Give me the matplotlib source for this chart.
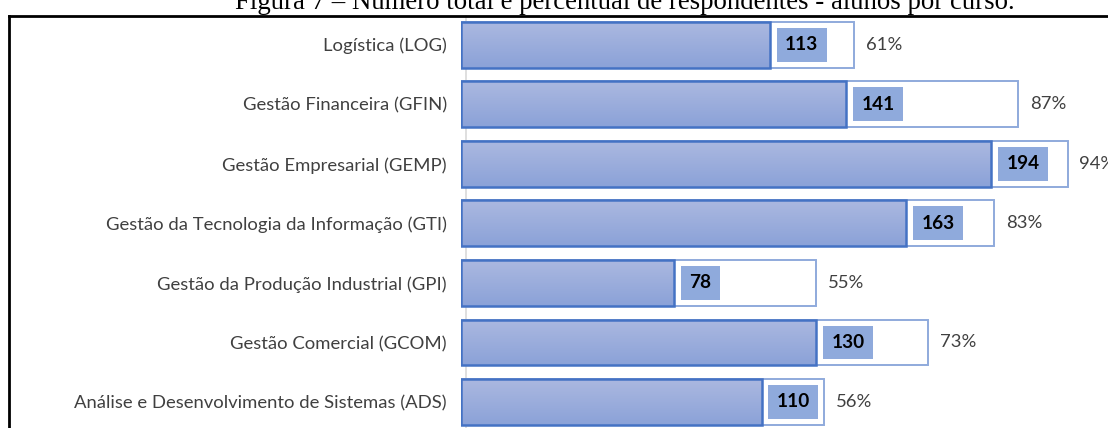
import numpy as np
import matplotlib
matplotlib.use("Agg")
import matplotlib.pyplot as plt
from matplotlib.lines import Line2D
from matplotlib.colors import LinearSegmentedColormap

# Course data
cursos = [
    "Logística (LOG)",
    "Gestão Financeira (GFIN)",
    "Gestão Empresarial (GEMP)",
    "Gestão da Tecnologia da Informação (GTI)",
    "Gestão da Produção Industrial (GPI)",
    "Gestão Comercial (GCOM)",
    "Análise e Desenvolvimento de Sistemas (ADS)",
]
respondentes = [113, 141, 194, 163, 78, 130, 110]
total_alunos = [144, 204, 222, 195, 130, 171, 133]
percentuais = ["61%", "87%", "94%", "83%", "55%", "73%", "56%"]

titulo = "Figura 7 – Número total e percentual de respondentes - alunos por curso."

W, H = 1108, 428
fig = plt.figure(figsize=(W / 100, H / 100), dpi=100)
fig.patch.set_facecolor("white")

plot_left = 461
ax = fig.add_axes([plot_left / W, 0, (W - plot_left) / W, 1])
px_per_unit = 2.732
row0, step = 44.7, 59.55

y = np.arange(len(cursos))
bar_h = 0.77

# Outline bars for totals
ax.barh(y, total_alunos, height=bar_h, fill=False, edgecolor="#8faadc",
        linewidth=1.4, zorder=2)

# Filled bars for respondents, with a soft vertical gradient
bars = ax.barh(y, respondentes, height=bar_h, color="none",
               edgecolor="#4472c4", linewidth=1.8, zorder=4)
cmap = LinearSegmentedColormap.from_list("grad", ["#abb8e0", "#8ba2d8"])
grad = np.linspace(0, 1, 64).reshape(-1, 1)
for b in bars:
    x0, y0 = b.get_x(), b.get_y()
    w, h = b.get_width(), b.get_height()
    im = ax.imshow(grad, cmap=cmap, aspect="auto",
                   extent=[x0, x0 + w, y0 + h, y0], zorder=3,
                   interpolation="bilinear")
    im.set_clip_path(b)

ax.set_xlim(0, (W - plot_left) / px_per_unit)
ax.set_ylim((H - row0) / step, -row0 / step)

font = "Lato"
fs = 13.3

# Respondent count labels in shaded boxes
for yi, v in zip(y, respondentes):
    ax.annotate(str(v), (v, yi), xytext=(11.0, 0), textcoords="offset points",
                ha="left", va="center", fontsize=fs + 0.4, fontweight="bold",
                family=font, color="black", zorder=5,
                bbox=dict(boxstyle="square,pad=0.44", fc="#8faadc", ec="none"))

# Percentage labels beyond the total bars
for yi, t, p in zip(y, total_alunos, percentuais):
    ax.annotate(p, (t, yi), xytext=(8.6, 0), textcoords="offset points",
                ha="left", va="center", fontsize=fs, family=font,
                color="#404040", annotation_clip=False)

ax.set_yticks(y)
ax.set_yticklabels(cursos, family=font, fontsize=fs, color="#404040")
ax.tick_params(axis="y", length=0, pad=10)
ax.set_xticks([])
for s in ax.spines.values():
    s.set_visible(False)

# Light vertical axis line
ax.axvline(5 / px_per_unit, ymin=0, ymax=(H - 16) / H, color="#d9d9d9",
           linewidth=1.2, zorder=1)

# Black frame around the figure area
fig.add_artist(Line2D([8.5 / W, 1], [1 - 16 / H, 1 - 16 / H],
                      transform=fig.transFigure, color="black", linewidth=2))
fig.add_artist(Line2D([8.5 / W, 8.5 / W], [0, 1 - 16 / H],
                      transform=fig.transFigure, color="black", linewidth=2))

# Caption, partly above the top edge
fig.text(625 / W, 1 - 9 / H, titulo, ha="center", va="baseline",
         family="Liberation Serif", fontsize=19.3, color="black")

fig.savefig("out.png", dpi=100, facecolor="white")
